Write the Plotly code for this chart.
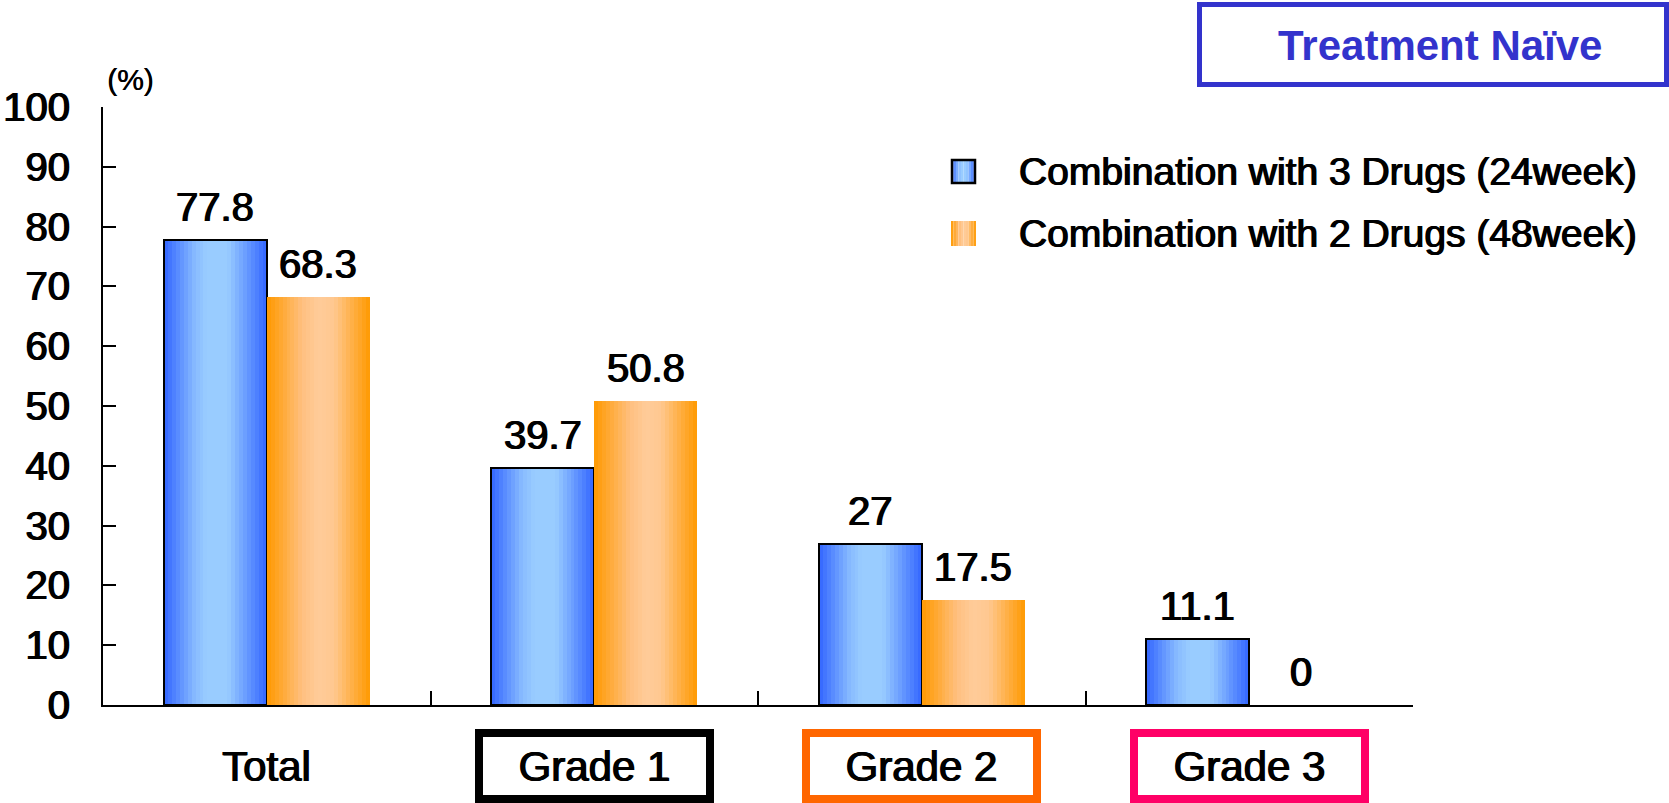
import plotly.graph_objects as go

# ---- data -------------------------------------------------------------
categories = ["Total", "Grade 1", "Grade 2", "Grade 3"]
series_names = ["Combination with 3 Drugs (24week)", "Combination with 2 Drugs (48week)"]
three_drugs = [77.8, 39.7, 27, 11.1]
two_drugs = [68.3, 50.8, 17.5, 0]
value_labels_3 = ["77.8", "39.7", "27", "11.1"]
value_labels_2 = ["68.3", "50.8", "17.5", "0"]
y_ticks = [0, 10, 20, 30, 40, 50, 60, 70, 80, 90, 100]

# ---- styling ----------------------------------------------------------
FONT = "Liberation Sans, Arial, sans-serif"
HEAVY = "0.7px 0 0 #000, -0.7px 0 0 #000"   # thickens strokes without changing metrics
W, H = 1669, 803
PL, PR, PT, PB = 103, 1413, 107, 705  # plot area in pixels

BLUE_STOPS = [(0.0, (0x33, 0x66, 0xFF)), (0.30, (0x88, 0xBB, 0xFF)),
              (0.42, (0x99, 0xCC, 0xFF)), (0.62, (0x99, 0xCC, 0xFF)),
              (1.0, (0x33, 0x66, 0xFF))]
ORANGE_STOPS = [(0.0, (0xFF, 0x99, 0x00)), (0.35, (0xFF, 0xC0, 0x80)),
                (0.50, (0xFF, 0xCC, 0x99)), (0.65, (0xFF, 0xC8, 0x90)),
                (1.0, (0xFF, 0x99, 0x00))]
GRADE_BORDERS = [None, "#000000", "#FF6600", "#FF0066"]

BAR_W = 0.314   # width of one bar in category units
N_STRIPS = 26   # slices used to render the horizontal shading


def shade(stops, t):
    for (t0, c0), (t1, c1) in zip(stops[:-1], stops[1:]):
        if t0 <= t <= t1:
            f = 0 if t1 == t0 else (t - t0) / (t1 - t0)
            r, g, b = (round(a + (b_ - a) * f) for a, b_ in zip(c0, c1))
            return f"rgb({r},{g},{b})"
    r, g, b = stops[-1][1]
    return f"rgb({r},{g},{b})"


def px_x(p):
    return (p - PL) / (PR - PL)


def px_y(p):
    return (PB - p) / (PB - PT)


def black(size):
    return dict(family=FONT, size=size, color="#000000", shadow=HEAVY)


xpos = list(range(len(categories)))
fig = go.Figure()

series = [
    (three_drugs, value_labels_3, BLUE_STOPS, -BAR_W, True),
    (two_drugs, value_labels_2, ORANGE_STOPS, 0.0, False),
]

for values, labels, stops, start, outlined in series:
    sw = BAR_W / N_STRIPS
    for i in range(N_STRIPS):
        fig.add_trace(go.Bar(
            x=xpos, y=values, width=sw, offset=start + i * sw,
            marker=dict(color=shade(stops, (i + 0.5) / N_STRIPS), line=dict(width=0)),
            showlegend=False, hoverinfo="skip",
        ))
    if outlined:
        fig.add_trace(go.Bar(
            x=xpos, y=values, width=BAR_W, offset=start,
            marker=dict(color="rgba(0,0,0,0)", line=dict(color="#000000", width=2)),
            showlegend=False, hoverinfo="skip",
        ))
    for xp, v, lab in zip(xpos, values, labels):
        fig.add_annotation(
            x=xp + start + BAR_W / 2, y=v, xref="x", yref="y", text=lab,
            showarrow=False, xanchor="center", yanchor="bottom", yshift=9,
            font=black(40),
        )

# category labels, grades framed in coloured boxes
for xp, cat, border in zip(xpos, categories, GRADE_BORDERS):
    fig.add_annotation(
        x=xp, y=px_y(766), xref="x", yref="paper", text=cat, showarrow=False,
        xanchor="center", yanchor="middle",
        width=223, height=58, borderpad=0,
        borderwidth=8 if border else 0,
        bordercolor=border if border else "rgba(0,0,0,0)",
        font=black(42),
    )

# legend
legend_rows = [(171.5, BLUE_STOPS, True), (233.5, ORANGE_STOPS, False)]
for name, (cy, stops, outlined) in zip(series_names, legend_rows):
    n = 10
    x0, x1 = 951, 976
    for i in range(n):
        fig.add_shape(
            type="rect", xref="paper", yref="paper",
            x0=px_x(x0 + (x1 - x0) * i / n), x1=px_x(x0 + (x1 - x0) * (i + 1) / n),
            y0=px_y(cy - 12.5), y1=px_y(cy + 12.5),
            fillcolor=shade(stops, (i + 0.5) / n), line=dict(width=0), layer="above",
        )
    if outlined:
        fig.add_shape(
            type="rect", xref="paper", yref="paper",
            x0=px_x(x0 + 1), x1=px_x(x1 - 1), y0=px_y(cy - 11.5), y1=px_y(cy + 11.5),
            line=dict(color="#000000", width=2.5), layer="above",
        )
    fig.add_annotation(
        x=px_x(1017), y=px_y(cy), xref="paper", yref="paper", text=name,
        showarrow=False, xanchor="left", yanchor="middle",
        font=black(39),
    )

# title box
fig.add_shape(
    type="rect", xref="paper", yref="paper",
    x0=px_x(1199.5), x1=px_x(1666.5), y0=px_y(84.5), y1=px_y(4.5),
    line=dict(color="#3333CC", width=5), fillcolor="#FFFFFF",
)
fig.add_annotation(
    x=px_x(1440), y=px_y(46), xref="paper", yref="paper",
    text="<b>Treatment Naïve</b>", showarrow=False,
    xanchor="center", yanchor="middle",
    font=dict(family=FONT, size=42, color="#3333CC"),
)

# unit label
fig.add_annotation(
    x=px_x(130), y=px_y(79), xref="paper", yref="paper", text="(%)",
    showarrow=False, xanchor="center", yanchor="middle",
    font=dict(family=FONT, size=30, color="#000000", shadow="0.4px 0 0 #000"),
)

fig.update_layout(
    width=W, height=H,
    margin=dict(l=PL, r=W - PR, t=PT, b=H - PB, pad=0, autoexpand=False),
    paper_bgcolor="#FFFFFF", plot_bgcolor="#FFFFFF",
    barmode="overlay", bargap=0,
    showlegend=False,
    font=dict(family=FONT, color="#000000"),
)
fig.update_xaxes(
    range=[-0.5, len(categories) - 0.5], showgrid=False, zeroline=False,
    showline=True, linecolor="#000000", linewidth=2, automargin=False,
    tickmode="array", tickvals=[i + 0.5 for i in xpos], ticktext=["" for _ in xpos],
    ticks="inside", ticklen=14, tickwidth=2, tickcolor="#000000",
    showticklabels=False,
)
fig.update_yaxes(
    range=[0, 100], showgrid=False, zeroline=False,
    showline=True, linecolor="#000000", linewidth=2, automargin=False,
    tickmode="array", tickvals=y_ticks, ticktext=[str(t) for t in y_ticks],
    ticks="inside", ticklen=13, tickwidth=2, tickcolor="#000000",
    ticklabelstandoff=23,
    tickfont=black(40),
)

fig.write_html("out.html")
